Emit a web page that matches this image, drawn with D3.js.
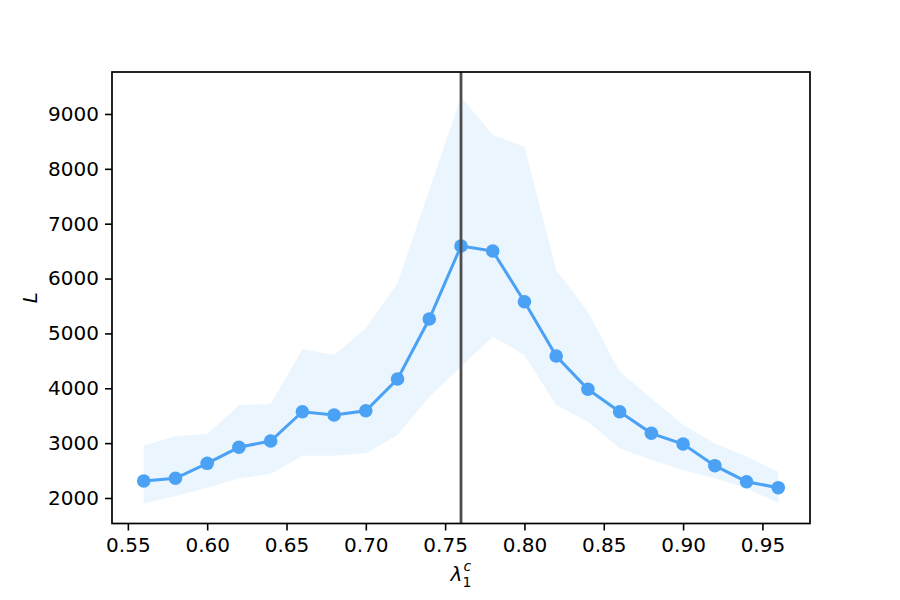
<!DOCTYPE html>
<html>
<head>
<meta charset="utf-8">
<script src="https://cdn.jsdelivr.net/npm/d3@7"></script>
<style>
  body { margin: 0; background: #fff; }
  svg { display: block; }
  text { font-family: "DejaVu Sans", sans-serif; }
</style>
</head>
<body>
<div id="chart"></div>
<script>
// valores
const lambdas = [0.56, 0.58, 0.60, 0.62, 0.64, 0.66, 0.68, 0.70, 0.72, 0.74, 0.76,
                 0.78, 0.80, 0.82, 0.84, 0.86, 0.88, 0.90, 0.92, 0.94, 0.96];
const meanL = [2310, 2359, 2632, 2924, 3039, 3573, 3513, 3591, 4169, 5263, 6594,
               6502, 5578, 4588, 3981, 3573, 3179, 2984, 2589, 2297, 2188];
const upperL = [2953, 3130, 3167, 3690, 3713, 4710, 4607, 5093, 5914, 7614, 9316,
                8617, 8404, 6156, 5396, 4303, 3817, 3331, 2997, 2753, 2479];
const lowerL = [1903, 2036, 2188, 2359, 2437, 2771, 2771, 2815, 3148, 3847, 4394,
                4941, 4607, 3695, 3391, 2905, 2693, 2510, 2359, 2177, 1903];
const critical = 0.76;
const xTicks = [0.55, 0.60, 0.65, 0.70, 0.75, 0.80, 0.85, 0.90, 0.95];
const yTicks = [2000, 3000, 4000, 5000, 6000, 7000, 8000, 9000];

const data = lambdas.map((l, i) => ({ l, m: meanL[i], lo: lowerL[i], hi: upperL[i] }));

const width = 900;
const height = 600;
const margin = { top: 72, right: 90, bottom: 76.5, left: 112 };
const innerWidth = width - margin.left - margin.right;
const innerHeight = height - margin.top - margin.bottom;

const blue = "#4ba2f5";

const svg = d3.select("#chart")
  .append("svg")
  .attr("width", width)
  .attr("height", height);

const g = svg.append("g")
  .attr("transform", `translate(${margin.left},${margin.top})`);

const xScale = d3.scaleLinear()
  .domain([0.54, 0.98])
  .range([0, innerWidth]);

const yScale = d3.scaleLinear()
  .domain([1535, 9765])
  .range([innerHeight, 0]);

// banda
const area = d3.area()
  .x((d) => xScale(d.l))
  .y0((d) => yScale(d.lo))
  .y1((d) => yScale(d.hi));

g.append("path")
  .datum(data)
  .attr("d", area)
  .attr("fill", blue)
  .attr("fill-opacity", 0.11);

// línea media
const line = d3.line()
  .x((d) => xScale(d.l))
  .y((d) => yScale(d.m));

g.append("path")
  .datum(data)
  .attr("d", line)
  .attr("fill", "none")
  .attr("stroke", blue)
  .attr("stroke-width", 3);

g.selectAll("circle")
  .data(data)
  .enter()
  .append("circle")
  .attr("cx", (d) => xScale(d.l))
  .attr("cy", (d) => yScale(d.m))
  .attr("r", 6.8)
  .attr("fill", blue);

// línea vertical en el valor crítico
g.append("line")
  .attr("x1", xScale(critical))
  .attr("x2", xScale(critical))
  .attr("y1", 0)
  .attr("y2", innerHeight)
  .attr("stroke", "#4d4d4d")
  .attr("stroke-width", 2.8);

// ejes
const xAxis = d3.axisBottom(xScale)
  .tickValues(xTicks)
  .tickFormat(d3.format(".2f"))
  .tickSize(7)
  .tickPadding(7);

const yAxis = d3.axisLeft(yScale)
  .tickValues(yTicks)
  .tickFormat(d3.format("d"))
  .tickSize(7)
  .tickPadding(6);

const gx = g.append("g")
  .attr("transform", `translate(0,${innerHeight})`)
  .call(xAxis);

const gy = g.append("g").call(yAxis);

[gx, gy].forEach((ax) => {
  ax.select(".domain").remove();
  ax.selectAll("line").attr("stroke", "#000").attr("stroke-width", 1.6);
  ax.selectAll("text")
    .attr("fill", "#000")
    .style("font-family", "DejaVu Sans")
    .style("font-size", "20px");
});

// marco
g.append("rect")
  .attr("x", 0)
  .attr("y", 0)
  .attr("width", innerWidth)
  .attr("height", innerHeight)
  .attr("fill", "none")
  .attr("stroke", "#000")
  .attr("stroke-width", 1.7);

// etiquetas
const xl = svg.append("text")
  .attr("x", margin.left + innerWidth / 2)
  .attr("y", 581)
  .attr("text-anchor", "middle")
  .style("font-size", "20px");
xl.append("tspan").style("font-style", "italic").text("λ");
xl.append("tspan").attr("dy", 6).style("font-size", "14px").text("1");
xl.append("tspan").attr("dx", -8).attr("dy", -16).style("font-size", "14px")
  .style("font-style", "italic").text("c");

svg.append("text")
  .attr("transform", "rotate(-90)")
  .attr("x", -(margin.top + innerHeight / 2))
  .attr("y", 37)
  .attr("text-anchor", "middle")
  .style("font-size", "20px")
  .style("font-style", "italic")
  .text("L");
</script>
</body>
</html>
